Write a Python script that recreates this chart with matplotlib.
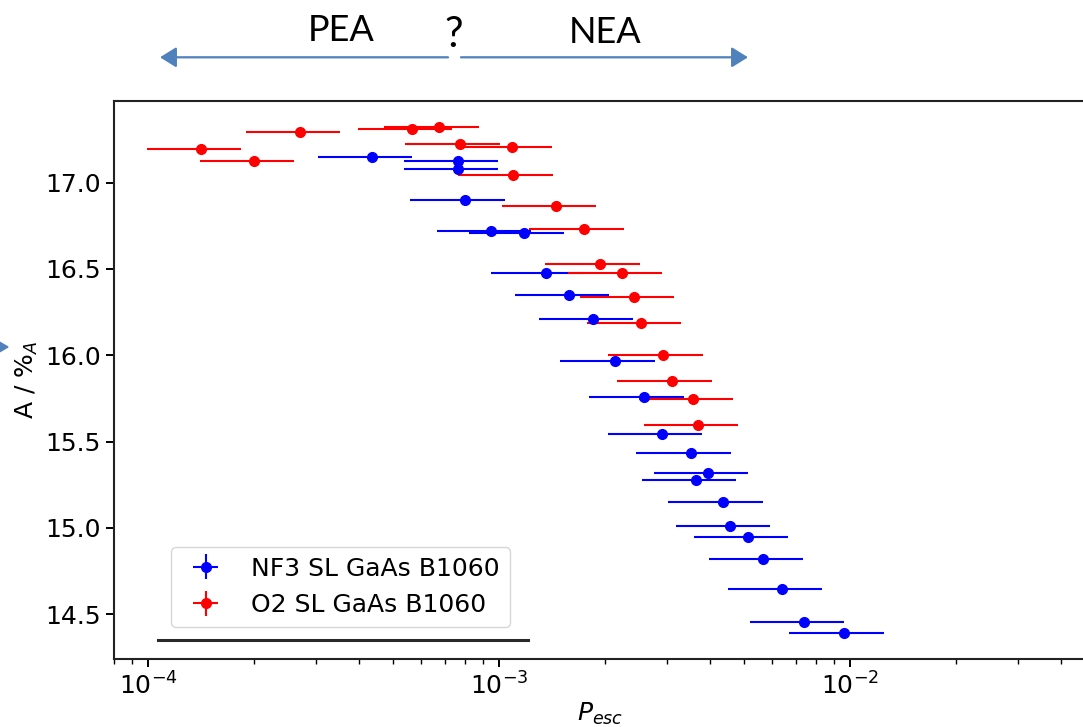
import matplotlib
matplotlib.use("Agg")
import matplotlib.pyplot as plt
from matplotlib.lines import Line2D
from matplotlib.patches import Polygon, FancyArrowPatch

# ---------------- data ----------------
nf3_label = "NF3 SL GaAs B1060"
nf3_p = [4.35e-4, 7.66e-4, 7.66e-4, 7.99e-4, 9.49e-4, 1.176e-3, 1.358e-3, 1.583e-3,
         1.856e-3, 2.134e-3, 2.584e-3, 2.913e-3, 3.517e-3, 3.948e-3, 3.649e-3,
         4.337e-3, 4.549e-3, 5.122e-3, 5.662e-3, 6.40e-3, 7.39e-3, 9.59e-3]
nf3_a = [17.151, 17.126, 17.081, 16.900, 16.722, 16.710, 16.475, 16.351,
         16.210, 15.969, 15.757, 15.546, 15.434, 15.318, 15.279,
         15.152, 15.013, 14.946, 14.820, 14.648, 14.455, 14.390]
nf3_perr = [1.30e-4, 2.30e-4, 2.30e-4, 2.40e-4, 2.85e-4, 3.53e-4, 4.07e-4, 4.75e-4,
            5.57e-4, 6.40e-4, 7.75e-4, 8.74e-4, 1.055e-3, 1.184e-3, 1.095e-3,
            1.301e-3, 1.365e-3, 1.537e-3, 1.699e-3, 1.92e-3, 2.22e-3, 2.88e-3]
nf3_aerr = [0.005] * len(nf3_a)

o2_label = "O2 SL GaAs B1060"
o2_p = [1.419e-4, 2.009e-4, 2.71e-4, 5.66e-4, 6.73e-4, 7.73e-4, 1.089e-3, 1.094e-3,
        1.453e-3, 1.743e-3, 1.936e-3, 2.245e-3, 2.424e-3, 2.543e-3, 2.922e-3,
        3.10e-3, 3.578e-3, 3.697e-3]
o2_a = [17.194, 17.127, 17.292, 17.313, 17.324, 17.222, 17.207, 17.045,
        16.863, 16.733, 16.531, 16.475, 16.338, 16.185, 16.002,
        15.851, 15.748, 15.598]
o2_perr = [4.26e-5, 6.03e-5, 8.13e-5, 1.70e-4, 2.02e-4, 2.32e-4, 3.27e-4, 3.28e-4,
           4.36e-4, 5.23e-4, 5.81e-4, 6.74e-4, 7.27e-4, 7.63e-4, 8.77e-4,
           9.30e-4, 1.073e-3, 1.109e-3]
o2_aerr = [0.005] * len(o2_a)

x_limits = (8.0e-5, 4.7e-2)
y_limits = (14.24, 17.473)
y_ticks = [14.5, 15.0, 15.5, 16.0, 16.5, 17.0]

# ---------------- figure ----------------
W, H = 1083, 727
fig = plt.figure(figsize=(W / 100, H / 100), dpi=100)

def fx(px):
    return px / W

def fy(py):
    return 1 - py / H

ax = fig.add_axes([fx(114), fy(659), fx(1086) - fx(114), fy(101) - fy(659)])

ax.errorbar(nf3_p, nf3_a, xerr=nf3_perr, yerr=nf3_aerr, fmt='o', color='#0000ff',
            ms=7, elinewidth=1.5, label=nf3_label)
ax.errorbar(o2_p, o2_a, xerr=o2_perr, yerr=o2_aerr, fmt='o', color='#ff0000',
            ms=7, elinewidth=1.5, label=o2_label)

ax.set_xscale('log')
ax.set_xlim(*x_limits)
ax.set_ylim(*y_limits)
ax.set_yticks(y_ticks)
ax.set_yticklabels([f"{v:.1f}" for v in y_ticks])

for s in ax.spines.values():
    s.set_linewidth(1.5)
    s.set_color('#222222')
ax.tick_params(axis='both', which='major', labelsize=18, length=6, width=1.4)
ax.tick_params(axis='both', which='minor', length=3.5, width=1.0)

ax.set_xlabel(r"$P_{esc}$", fontsize=18, labelpad=1)
ax.set_ylabel(r"A / %$_A$", fontsize=18, labelpad=4)

leg = ax.legend(loc='lower left', bbox_to_anchor=(0.0586, 0.0573), borderaxespad=0,
                fontsize=18, handlelength=2.0, handletextpad=0.8)

# stray dark line under the legend
fig.add_artist(Line2D([fx(158), fx(528)], [fy(640), fy(640)], color='#2a2a2a', lw=2.2))

# top annotation arrows
arrow_col = '#4F81BD'
for (x0, x1) in [(448, 160), (461, 748)]:
    fig.add_artist(FancyArrowPatch(
        (fx(x0), fy(57.3)), (fx(x1), fy(57.3)), transform=fig.transFigure,
        arrowstyle='-|>,head_length=0.45,head_width=0.28', mutation_scale=22,
        color=arrow_col, lw=1.6, shrinkA=0, shrinkB=0))

fig.text(fx(341), fy(41), "PEA", fontsize=26, family=['Lato', 'DejaVu Sans'],
         ha='center', va='baseline', color='black')
fig.text(fx(605), fy(43), "NEA", fontsize=26, family=['Lato', 'DejaVu Sans'],
         ha='center', va='baseline', color='black')
fig.text(fx(454), fy(47), "?", fontsize=30, family=['Lato', 'DejaVu Sans'],
         ha='center', va='baseline', color='black')

# small arrowhead at left edge
fig.add_artist(Polygon([(fx(-4), fy(340)), (fx(-4), fy(354)), (fx(8), fy(347))],
                       closed=True, transform=fig.transFigure, color=arrow_col))

fig.savefig("out.png", dpi=100)
